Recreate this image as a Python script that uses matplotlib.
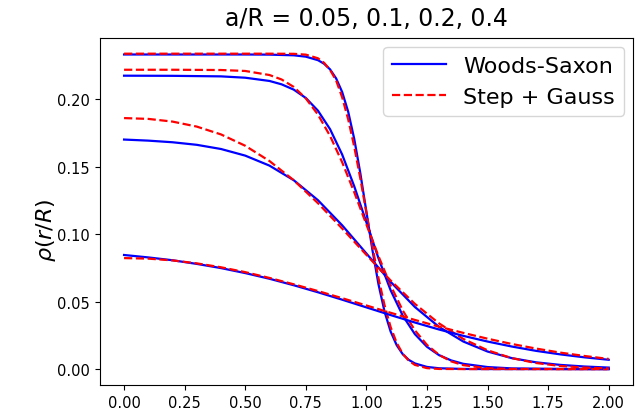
import matplotlib
matplotlib.use("Agg")
import matplotlib.pyplot as plt
from matplotlib.ticker import FormatStrFormatter

# Woods-Saxon densities and their step+Gauss (sphere folded with a Gaussian)
# counterparts, one pair per surface diffuseness a/R.

# a/R = 0.05
r_005 = [0.0, 0.5, 0.6, 0.7, 0.75, 0.8, 0.825, 0.85, 0.875, 0.9, 0.925, 0.95,
         0.975, 1.0, 1.025, 1.05, 1.075, 1.1, 1.125, 1.15, 1.175, 1.2, 1.25,
         1.3, 1.4, 1.5, 2.0]
ws_005 = [0.2330, 0.2330, 0.2329, 0.2324, 0.2314, 0.2288, 0.2262, 0.2220,
          0.2153, 0.2052, 0.1905, 0.1703, 0.1450, 0.1165, 0.0880, 0.0627,
          0.0425, 0.0278, 0.0177, 0.0110, 0.0068, 0.0042, 0.0016, 0.0006,
          0.0001, 0.0, 0.0]
sg_005 = [0.2336, 0.2336, 0.2336, 0.2335, 0.2329, 0.2302, 0.2269, 0.2216,
          0.2138, 0.2013, 0.1849, 0.1646, 0.1411, 0.1158, 0.0905, 0.0672,
          0.0472, 0.0311, 0.0194, 0.0113, 0.0062, 0.0031, 0.0007, 0.0001,
          0.0, 0.0, 0.0]

# a/R = 0.1
r_01 = [0.0, 0.2, 0.4, 0.5, 0.6, 0.65, 0.7, 0.75, 0.8, 0.85, 0.9, 0.95, 1.0,
        1.05, 1.1, 1.15, 1.2, 1.25, 1.3, 1.35, 1.4, 1.5, 1.6, 1.8, 2.0]
ws_01 = [0.2173, 0.2172, 0.2168, 0.2158, 0.2134, 0.2109, 0.2070, 0.2008,
         0.1914, 0.1777, 0.1589, 0.1353, 0.1087, 0.0820, 0.0584, 0.0396,
         0.0259, 0.0165, 0.0103, 0.0064, 0.0039, 0.0015, 0.0005, 0.0001, 0.0]
sg_01 = [0.2217, 0.2217, 0.2215, 0.2208, 0.2178, 0.2145, 0.2090, 0.2005,
         0.1885, 0.1727, 0.1532, 0.1309, 0.1071, 0.0836, 0.0619, 0.0434,
         0.0287, 0.0179, 0.0105, 0.0057, 0.0029, 0.0006, 0.0001, 0.0, 0.0]

# a/R = 0.2 and 0.4 share one radial grid
r_02 = [0.0, 0.1, 0.2, 0.3, 0.4, 0.5, 0.6, 0.7, 0.8, 0.9, 1.0, 1.1, 1.2,
        1.3, 1.4, 1.5, 1.6, 1.7, 1.8, 1.9, 2.0]
ws_02 = [0.1700, 0.1692, 0.1680, 0.1661, 0.1630, 0.1581, 0.1507, 0.1399,
         0.1251, 0.1065, 0.0856, 0.0646, 0.0460, 0.0312, 0.0204, 0.0130,
         0.0081, 0.0050, 0.0031, 0.0019, 0.0011]
sg_02 = [0.1859, 0.1853, 0.1833, 0.1796, 0.1738, 0.1654, 0.1541, 0.1399,
         0.1229, 0.1041, 0.0846, 0.0656, 0.0483, 0.0338, 0.0223, 0.0139,
         0.0081, 0.0045, 0.0023, 0.0011, 0.0005]

r_04 = r_02
ws_04 = [0.0845, 0.0827, 0.0806, 0.0779, 0.0748, 0.0711, 0.0669, 0.0621,
         0.0569, 0.0514, 0.0457, 0.0400, 0.0345, 0.0293, 0.0246, 0.0204,
         0.0167, 0.0135, 0.0109, 0.0087, 0.0069]
sg_04 = [0.0822, 0.0818, 0.0805, 0.0783, 0.0754, 0.0718, 0.0675, 0.0628,
         0.0578, 0.0525, 0.0471, 0.0417, 0.0364, 0.0314, 0.0268, 0.0225,
         0.0186, 0.0152, 0.0122, 0.0097, 0.0075]

curves = [(r_005, ws_005, sg_005), (r_01, ws_01, sg_01),
          (r_02, ws_02, sg_02), (r_04, ws_04, sg_04)]

fig = plt.figure(figsize=(6.4, 4.14), dpi=100)
ax = fig.add_axes([0.156, 0.068, 0.833, 0.838])

for i, (r, ws, sg) in enumerate(curves):
    ax.plot(r, ws, color="blue", lw=1.6,
            label="Woods-Saxon" if i == 0 else None)
    ax.plot(r, sg, color="red", lw=1.6, ls="--",
            label="Step + Gauss" if i == 0 else None)

ax.set_xticks([0.0, 0.25, 0.5, 0.75, 1.0, 1.25, 1.5, 1.75, 2.0])
ax.set_yticks([0.0, 0.05, 0.10, 0.15, 0.20])
ax.xaxis.set_major_formatter(FormatStrFormatter("%.2f"))
ax.yaxis.set_major_formatter(FormatStrFormatter("%.2f"))
ax.tick_params(labelsize=10.5)
ax.set_ylabel(r"$\rho(r/R)$", fontsize=16)
ax.yaxis.set_label_coords(-0.079, 0.447)
ax.set_title("a/R = 0.05, 0.1, 0.2, 0.4", fontsize=17, pad=9)
ax.legend(loc="upper right", fontsize=16, handlelength=2.4,
          borderaxespad=0.4)

fig.savefig("out.png", dpi=100)
